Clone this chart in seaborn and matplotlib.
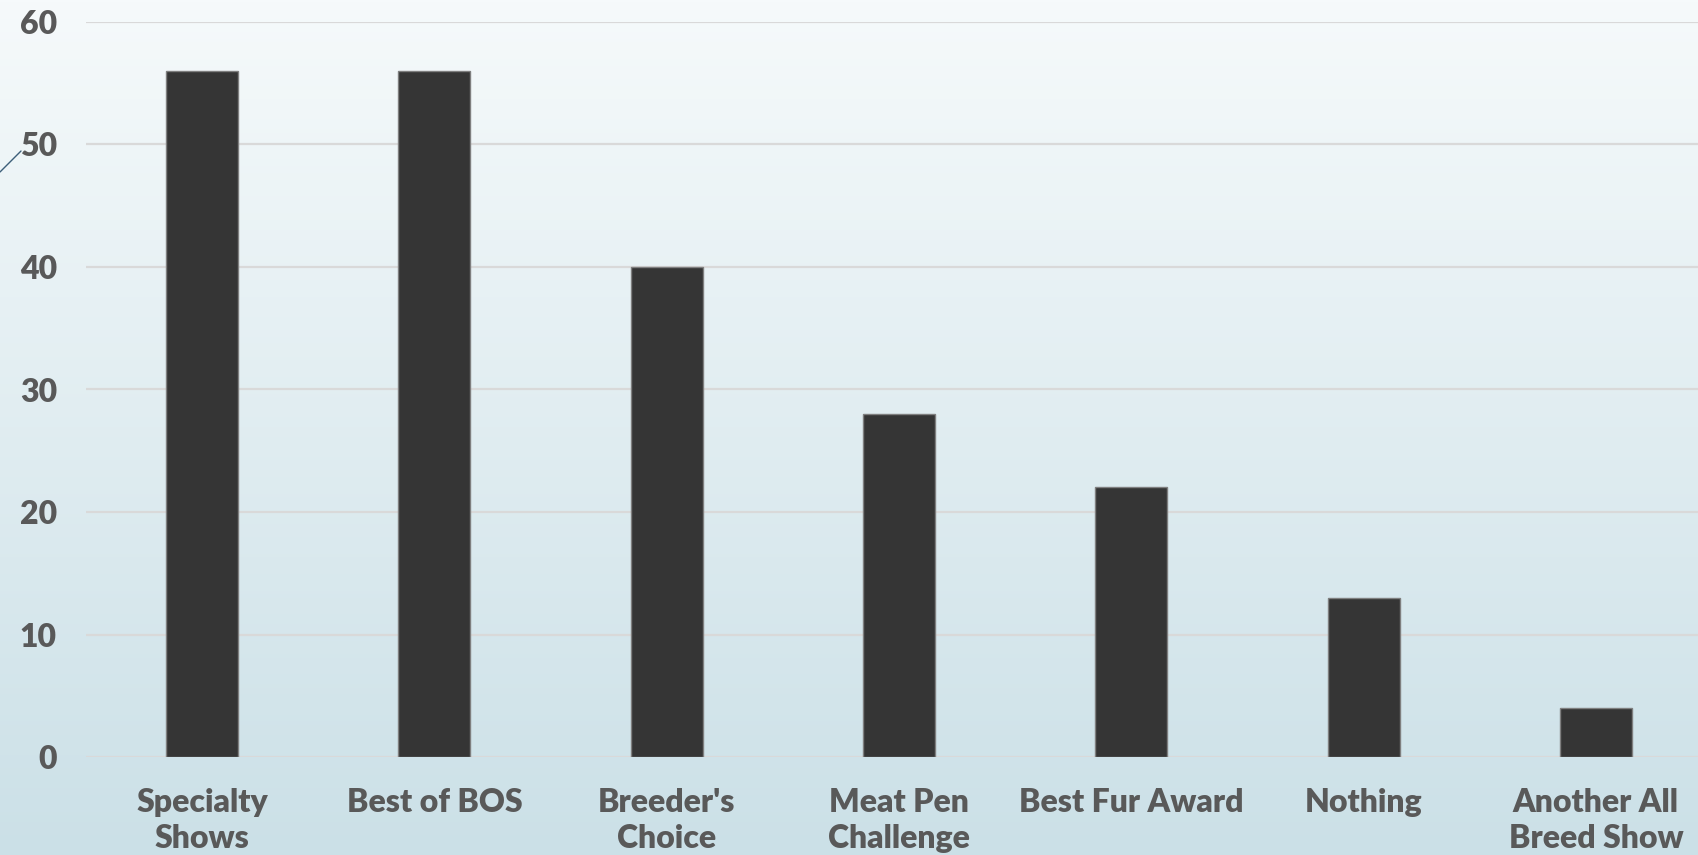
import numpy as np
import pandas as pd
import matplotlib
matplotlib.use("Agg")
import matplotlib.pyplot as plt
import seaborn as sns
from matplotlib.lines import Line2D

categories = ["Specialty\nShows", "Best of BOS", "Breeder's\nChoice", "Meat Pen\nChallenge",
              "Best Fur Award", "Nothing", "Another All\nBreed Show"]
values = [56, 56, 40, 28, 22, 13, 4]
yticks = [0, 10, 20, 30, 40, 50, 60]

sns.set_theme(style="white")
plt.rcParams['font.family'] = ['Lato', 'DejaVu Sans']

fig = plt.figure(figsize=(16.98, 8.55), dpi=100)

# gradient background
bg = fig.add_axes([0, 0, 1, 1], zorder=-10)
grad = np.linspace(0, 1, 256).reshape(-1, 1)
top = np.array([0xf6, 0xfa, 0xfb]) / 255
bot = np.array([0xcb, 0xe0, 0xe7]) / 255
img = top[None, None, :] * (1 - grad[:, :, None]) + bot[None, None, :] * grad[:, :, None]
bg.imshow(img, aspect='auto', extent=[0, 1, 0, 1], origin='upper')
bg.set_axis_off()

ax = fig.add_axes([86 / 1698, (855 - 757) / 855, (1712 - 86) / 1698, (757 - 22) / 855])
ax.patch.set_alpha(0)

df = pd.DataFrame({"cat": categories, "val": values})
sns.barplot(data=df, x="cat", y="val", ax=ax, color="#353535", width=0.31,
            edgecolor="#7f7f7f", linewidth=1.0, saturation=1, zorder=3)

ax.set_ylim(0, 60)
ax.set_xlim(-0.5, len(categories) - 0.5)
ax.set_yticks(yticks)
ax.yaxis.grid(True, color="#d9d9d9", linewidth=1.6, zorder=0)
ax.set_axisbelow(True)
for s in ax.spines.values():
    s.set_visible(False)
ax.set_xlabel("")
ax.set_ylabel("")
ax.tick_params(axis='y', length=0, pad=21, labelsize=23, labelcolor="#595959")
ax.tick_params(axis='x', length=0, pad=22, labelsize=23, labelcolor="#595959")
for lbl in ax.get_yticklabels() + ax.get_xticklabels():
    lbl.set_fontweight("heavy")
for lbl in ax.get_xticklabels():
    lbl.set_linespacing(1.3)
    lbl.set_verticalalignment("top")

# small decorative line at left
fig.add_artist(Line2D([0 / 1698, 21 / 1698], [1 - 172 / 855, 1 - 151 / 855],
                      color="#3d5f7a", linewidth=1.0, transform=fig.transFigure))

fig.savefig("out.png", dpi=100)
